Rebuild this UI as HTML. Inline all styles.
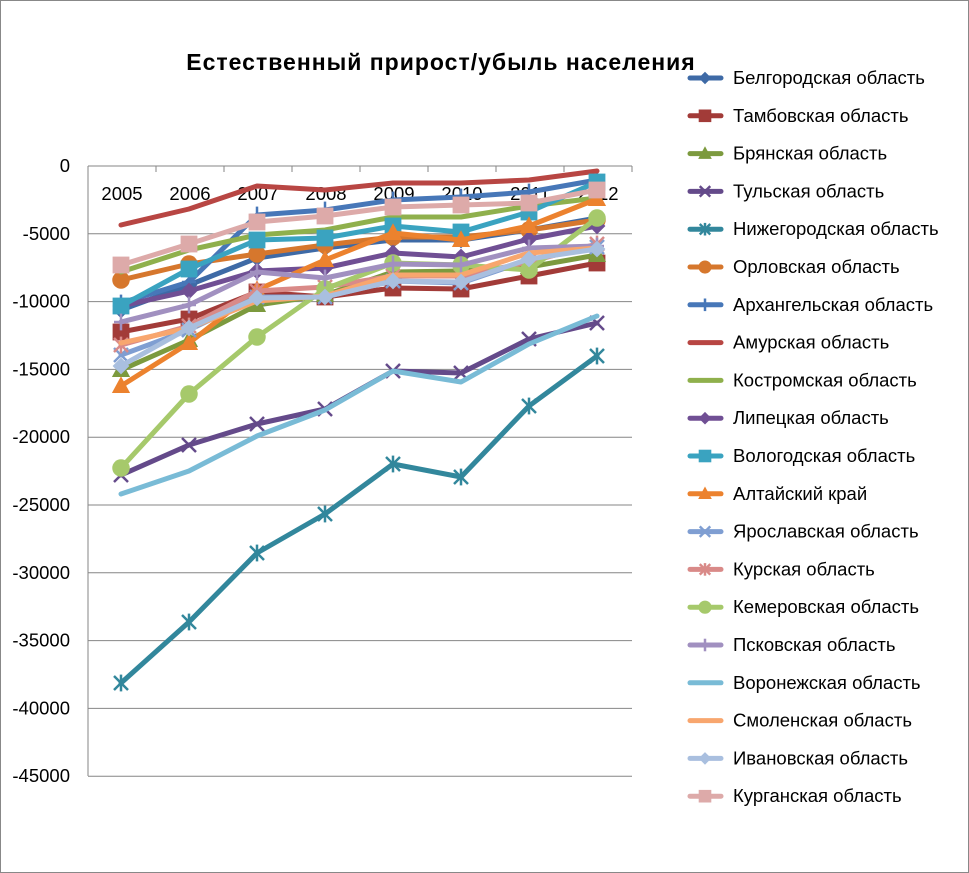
<!DOCTYPE html>
<html><head><meta charset="utf-8"><style>
html,body{margin:0;padding:0;background:#fff;}
svg{display:block;font-family:"Liberation Sans","DejaVu Sans",sans-serif;}
</style></head><body>
<svg id="c" width="969" height="873" xmlns="http://www.w3.org/2000/svg">
<rect x="0.5" y="0.5" width="968" height="872" fill="#fff" stroke="#888"/>
<text x="441" y="70" text-anchor="middle" font-size="23" font-weight="bold" letter-spacing="1">Естественный прирост/убыль населения</text>
</svg>
<script>
const s=document.getElementById('c');const NS='http://www.w3.org/2000/svg';
function el(t,a,p){const e=document.createElementNS(NS,t);for(const k in a)e.setAttribute(k,a[k]);(p||s).appendChild(e);return e;}
for(let i=0;i<=9;i++){const y=166+i*67.8;el('line',{x1:88,x2:632,y1:y,y2:y,stroke:'#868686','stroke-width':1});
const t=el('text',{x:70,y:y+6,'text-anchor':'end','font-size':18.5});t.textContent=i==0?'0':'-'+(i*5000);}
el('line',{x1:88,x2:88,y1:166,y2:776,stroke:'#868686'});
const X=i=>121+i*68;
for(let i=0;i<=8;i++){el('line',{x1:88+i*68,x2:88+i*68,y1:166,y2:172,stroke:'#868686'});}
for(let i=0;i<8;i++){const t=el('text',{x:X(i)+1,y:200,'text-anchor':'middle','font-size':18.5});t.textContent=2005+i;}
const S=[
['Белгородская область','#3e6aa6','d',[310,285,258,248,240,240,230,218]],
['Тамбовская область','#a23b38','s',[332,319,292,297,288,289,276,263]],
['Брянская область','#7c9a3e','t',[370,340,305,295,272,271,267,255]],
['Тульская область','#644a8a','x',[475,445,424,409,371,373,339,323]],
['Нижегородская область','#32879c','a',[683,622,553,514,464,477,406,356]],
['Орловская область','#d6772d','c',[280,264,254,245,237,237,230,220]],
['Архангельская область','#4777b8','p',[303,282,215,210,200,197,192,180]],
['Амурская область','#b84643','n',[225,209,186,190,183,183,180,171]],
['Костромская область','#8fb04c','n',[272,250,235,230,217,217,206,198]],
['Липецкая область','#704f94','d',[306,291,271,268,253,257,239,226]],
['Вологодская область','#3aa3c0','s',[306,269,240,238,226,232,212,182]],
['Алтайский край','#ec822e','t',[386,343,290,260,233,240,226,199]],
['Ярославская область','#7f9ed2','x',[355,330,297,297,281,283,260,247]],
['Курская область','#d98a88','a',[345,326,291,287,276,276,262,244]],
['Кемеровская область','#a6c96b','c',[468,394,337,289,263,265,270,218]],
['Псковская область','#a190c0','p',[322,305,272,278,264,265,248,246]],
['Воронежская область','#79bbd6','n',[494,471,436,410,371,382,344,316]],
['Смоленская область','#f8a66e','n',[343,328,301,296,275,275,253,248]],
['Ивановская область','#a9bfdf','d',[366,328,298,297,281,282,259,249]],
['Курганская область','#ddaaa9','s',[265,244,222,216,207,205,203,190]]];
function mk(type,x,y,c,sc){sc=sc||1;const r=7*sc;
 if(type=='d')el('polygon',{points:`${x},${y-r*1.2} ${x+r*1.2},${y} ${x},${y+r*1.2} ${x-r*1.2},${y}`,fill:c});
 else if(type=='s')el('rect',{x:x-r*1.2,y:y-r*1.2,width:r*2.4,height:r*2.4,fill:c});
 else if(type=='t')el('polygon',{points:`${x},${y-r*1.4} ${x+r*1.3},${y+r} ${x-r*1.3},${y+r}`,fill:c});
 else if(type=='c')el('circle',{cx:x,cy:y,r:r*1.25,fill:c});
 else if(type=='x'||type=='a'||type=='p'){const g={stroke:c,'stroke-width':2.5};
  if(type!='p'){el('line',Object.assign({x1:x-r,y1:y-r,x2:x+r,y2:y+r},g));el('line',Object.assign({x1:x-r,y1:y+r,x2:x+r,y2:y-r},g));}
  if(type!='x')el('line',Object.assign({x1:x,y1:y-r*1.2,x2:x,y2:y+r*1.2},g));
  if(type=='p')el('line',Object.assign({x1:x-r,y1:y,x2:x+r,y2:y},g));}
}
S.forEach(([n,c,m,v],k)=>{
 el('polyline',{points:v.map((y,i)=>X(i)+','+y).join(' '),fill:'none',stroke:c,'stroke-width':5,'stroke-linejoin':'round','stroke-linecap':'round'});
 v.forEach((y,i)=>mk(m,X(i),y,c));
 const ly=78+k*37.8;
 el('line',{x1:690,x2:721,y1:ly,y2:ly,stroke:c,'stroke-width':5,'stroke-linecap':'round'});
 mk(m,705,ly,c,0.75);
 const t=el('text',{x:733,y:ly+6,'font-size':18.5,textLength:null});t.textContent=n;
});
</script>
</body></html>
